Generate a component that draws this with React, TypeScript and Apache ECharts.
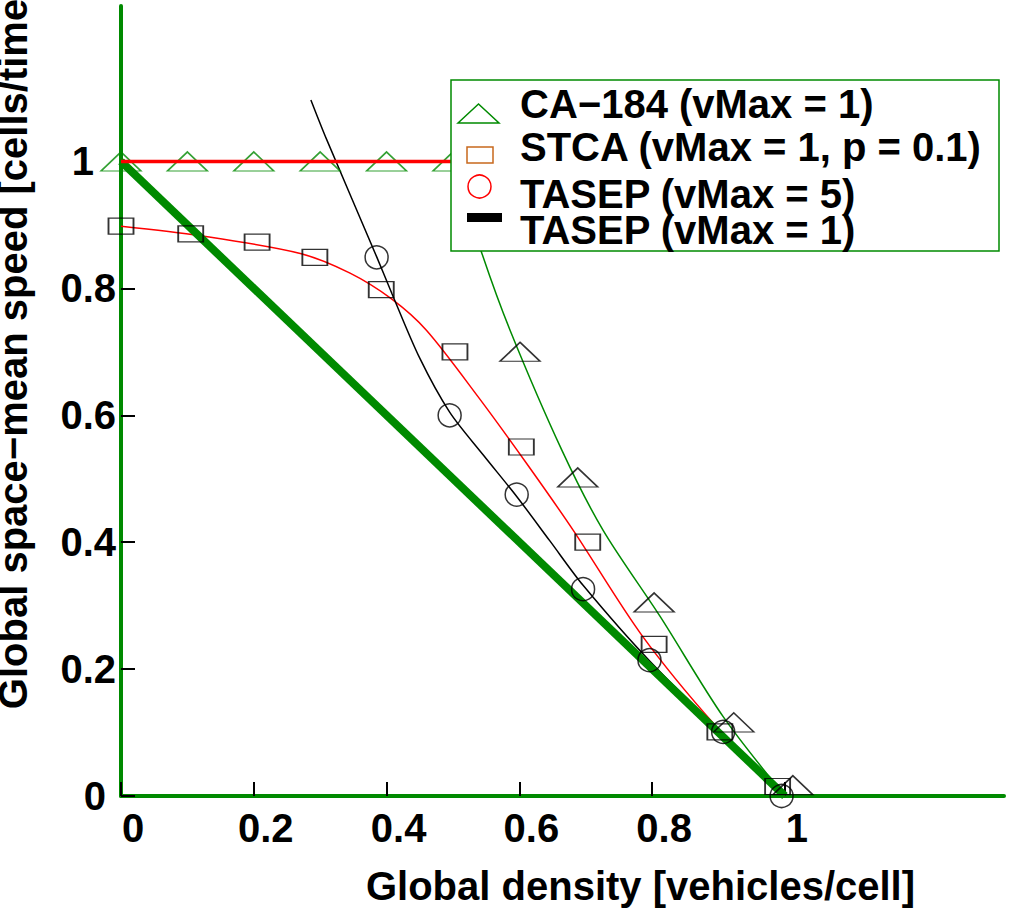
import React, { useEffect, useRef } from 'react';
import * as echarts from 'echarts';

const GREEN = '#008a00';
const FONT = '"Liberation Sans", Arial, Helvetica, sans-serif';

const xTickValues = [0, 0.2, 0.4, 0.6, 0.8, 1];
const yTickValues = [0, 0.2, 0.4, 0.6, 0.8, 1];

// CA-184 (vMax = 1) markers: free-flow plateau (green) and jammed branch (black)
const caFreeX = [0, 0.1, 0.2, 0.3, 0.4, 0.5];
const caFreeY = [1, 1, 1, 1, 1, 1];
const caJamX = [0.601, 0.688, 0.803, 0.923, 1.012];
const caJamY = [0.7, 0.502, 0.305, 0.116, 0.017];
// CA-184 fitted curve
const caFitX = [0.5, 0.543, 0.586, 0.664, 0.726, 0.812, 0.907, 1.0];
const caFitY = [1.0, 0.857, 0.734, 0.545, 0.419, 0.283, 0.125, 0.0];

// STCA (vMax = 1, p = 0.1) markers and fit
const stcaX = [0, 0.105, 0.205, 0.292, 0.392, 0.503, 0.603, 0.703, 0.803, 0.902, 0.989];
const stcaY = [0.898, 0.886, 0.873, 0.849, 0.798, 0.7, 0.55, 0.4, 0.239, 0.101, 0.015];
const stcaFitX = [0, 0.119, 0.27, 0.345, 0.408, 0.46, 0.538, 0.611, 0.681, 0.784, 0.897, 1.0];
const stcaFitY = [0.898, 0.883, 0.855, 0.824, 0.783, 0.734, 0.629, 0.524, 0.419, 0.254, 0.109, 0.0];

// TASEP (vMax = 5) markers and fit
const tasep5X = [0.385, 0.495, 0.596, 0.696, 0.796, 0.907, 0.995];
const tasep5Y = [0.849, 0.6, 0.475, 0.326, 0.214, 0.101, 0.0];
const tasep5FitX = [0.286, 0.31, 0.385, 0.408, 0.45, 0.495, 0.546, 0.596, 0.646, 0.696, 0.797, 1.0];
const tasep5FitY = [1.097, 1.034, 0.85, 0.792, 0.69, 0.605, 0.537, 0.472, 0.402, 0.332, 0.212, 0.0];

// free-flow reference line (red) and TASEP (vMax = 1) line (thick)
const freeX = [0, 0.5];
const freeY = [1, 1];
const tasep1X = [0, 1];
const tasep1Y = [1, 0];

const legendLabels = [
  'CA\u2212184 (vMax = 1)',
  'STCA (vMax = 1, p = 0.1)',
  'TASEP (vMax = 5)',
  'TASEP (vMax = 1)',
];

const zip = (xs: number[], ys: number[]) => xs.map((x, i) => [x, ys[i]]);

export default function App() {
  const ref = useRef<HTMLDivElement>(null);
  useEffect(() => {
    document.body.style.margin = '0';
    if (!ref.current) return;
    const chart = echarts.init(ref.current, undefined, { renderer: 'svg' });
    const labelFont = { fontFamily: FONT, fontWeight: 'bold' as const, fontSize: 40, color: '#000' };
    const hollow = (c: string) => ({ color: 'rgba(0,0,0,0)', borderColor: c, borderWidth: 1.5 });
    const thin = { width: 1.5 };
    chart.setOption({
      animation: false,
      grid: { left: 121, top: 6, right: 6, bottom: 116, containLabel: false, outerBoundsMode: 'none' },
      xAxis: {
        type: 'value',
        min: 0,
        max: 1.33,
        name: 'Global density [vehicles/cell]',
        nameLocation: 'middle',
        nameGap: 70,
        nameTextStyle: { ...labelFont, padding: [0, 0, 0, 156] },
        axisLine: { show: true, lineStyle: { color: GREEN, width: 4 } },
        axisTick: { show: true, inside: true, length: 14, lineStyle: { color: '#000', width: 2 }, customValues: xTickValues },
        axisLabel: { ...labelFont, margin: 12, padding: [0, 0, 0, 24], customValues: xTickValues, formatter: (v: number) => String(v) },
        splitLine: { show: false },
      },
      yAxis: {
        type: 'value',
        min: 0,
        max: 1.245,
        name: 'Global space\u2212mean speed [cells/time',
        nameLocation: 'middle',
        nameRotate: 90,
        nameGap: 88,
        nameTextStyle: { ...labelFont, padding: [0, 0, 0, 94] },
        axisLine: { show: true, lineStyle: { color: GREEN, width: 4 } },
        axisTick: { show: true, inside: true, length: 14, lineStyle: { color: '#000', width: 2 }, customValues: yTickValues },
        axisLabel: {
          ...labelFont,
          margin: 5,
          customValues: yTickValues,
          formatter: (v: number) => (v === 1 ? '{one|1}' : v === 0 ? '{zero|0}' : '{n|' + String(v) + '}'),
          rich: {
            one: { ...labelFont, padding: [0, 22, 0, 0] },
            zero: { ...labelFont, padding: [0, 10, 0, 0] },
            n: { ...labelFont },
          },
        },
        splitLine: { show: false },
      },
      series: [
        { name: 'TASEP (vMax = 1)', type: 'line', data: zip(tasep1X, tasep1Y), symbol: 'none', lineStyle: { color: GREEN, width: 8 }, z: 3 },
        { name: 'free flow', type: 'line', data: zip(freeX, freeY), symbol: 'none', lineStyle: { color: '#ff0000', width: 3.5 }, z: 4 },
        { name: 'CA-184 fit', type: 'line', data: zip(caFitX, caFitY), symbol: 'none', smooth: 0.3, lineStyle: { color: GREEN, ...thin }, z: 2 },
        { name: 'STCA fit', type: 'line', data: zip(stcaFitX, stcaFitY), symbol: 'none', smooth: 0.3, lineStyle: { color: '#ff0000', ...thin }, z: 2 },
        { name: 'TASEP5 fit', type: 'line', data: zip(tasep5FitX, tasep5FitY), symbol: 'none', smooth: 0.3, lineStyle: { color: '#000', ...thin }, z: 2 },
        { name: 'CA-184 free', type: 'scatter', data: zip(caFreeX, caFreeY), symbol: 'triangle', symbolSize: [40, 19], itemStyle: hollow(GREEN), z: 3 },
        { name: 'CA-184 jam', type: 'scatter', data: zip(caJamX, caJamY), symbol: 'triangle', symbolSize: [40, 19], itemStyle: hollow('#000'), z: 3 },
        { name: 'STCA', type: 'scatter', data: zip(stcaX, stcaY), symbol: 'rect', symbolSize: [25, 16], itemStyle: hollow('#000'), z: 3 },
        { name: 'TASEP (vMax = 5)', type: 'scatter', data: zip(tasep5X, tasep5Y), symbol: 'circle', symbolSize: 23, itemStyle: hollow('#000'), z: 3 },
      ],
      graphic: [
        {
          type: 'group',
          z: 100,
          children: [
            { type: 'rect', shape: { x: 451, y: 80, width: 548, height: 171 }, style: { fill: '#fff', stroke: GREEN, lineWidth: 1.5 }, z: 100 },
            { type: 'polygon', shape: { points: [[458, 123], [478.5, 104], [499, 123]] }, style: { fill: 'none', stroke: GREEN, lineWidth: 1.5 }, z: 101 },
            { type: 'rect', shape: { x: 467, y: 147, width: 26, height: 16 }, style: { fill: 'none', stroke: '#c8681c', lineWidth: 1.5 }, z: 101 },
            { type: 'circle', shape: { cx: 479.5, cy: 186.5, r: 11.5 }, style: { fill: 'none', stroke: '#ff0000', lineWidth: 1.5 }, z: 101 },
            { type: 'rect', shape: { x: 467, y: 213, width: 35, height: 9 }, style: { fill: '#000' }, z: 101 },
            ...legendLabels.map((t, i) => ({
              type: 'text',
              x: 520,
              y: [104, 147, 194, 230][i],
              z: 101,
              style: { text: t, fill: '#000', font: 'bold 40px ' + FONT, textAlign: 'left', textVerticalAlign: 'middle' },
            })),
          ],
        },
      ],
    });
    return () => chart.dispose();
  }, []);
  return <div ref={ref} style={{ width: 1010, height: 912 }} />;
}
